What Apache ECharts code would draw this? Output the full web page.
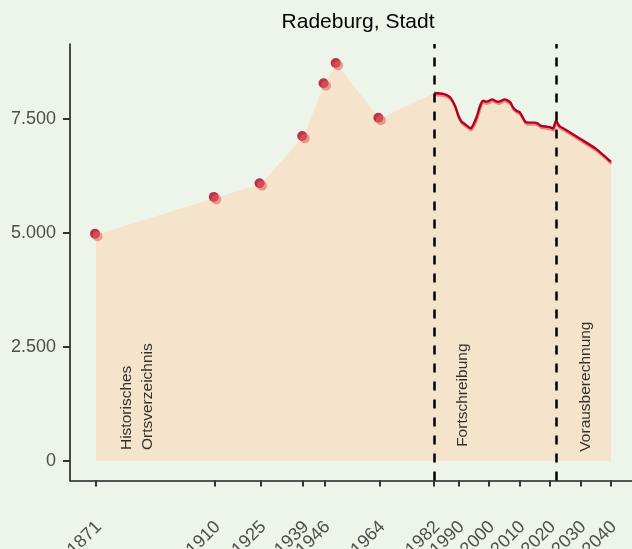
<!DOCTYPE html>
<html>
<head>
<meta charset="utf-8">
<script src="https://cdn.jsdelivr.net/npm/echarts@6/dist/echarts.min.js"></script>
<style>
  html, body { margin: 0; padding: 0; background: #edf5ea; }
  #chart { width: 632px; height: 549px; }
</style>
</head>
<body>
<div id="chart"></div>
<script>
// historische Zählungen (Punkte)
var histYears = [1871, 1910, 1925, 1939, 1946, 1950, 1964];
var histValues = [4960, 5770, 6070, 7105, 8262, 8706, 7507];

// Fortschreibung + Vorausberechnung (Linie)
var lineYears = [1982, 1985, 1987, 1988, 1989, 1990, 1991, 1992, 1994, 1995, 1996, 1997, 1998, 1999, 2000,
  2001, 2002, 2003, 2004, 2005, 2006, 2007, 2008, 2009, 2010, 2011, 2012, 2013, 2014, 2015, 2016,
  2017, 2018, 2019, 2020, 2021, 2022, 2023, 2025, 2030, 2035, 2040];
var lineValues = [8070, 8050, 7990, 7900, 7760, 7560, 7440, 7390, 7296, 7400, 7560, 7780, 7900, 7880, 7900,
  7930, 7900, 7880, 7900, 7930, 7910, 7860, 7740, 7680, 7650, 7540, 7430, 7420, 7420, 7420, 7400,
  7350, 7340, 7330, 7320, 7290, 7470, 7350, 7270, 7060, 6850, 6560];

var xTickYears = [1871, 1910, 1925, 1939, 1946, 1964, 1982, 1990, 2000, 2010, 2020, 2030, 2040];
var yTicks = [0, 2500, 5000, 7500];
var phaseBreaks = [1982, 2022];

var phaseLabels = ['Historisches\nOrtsverzeichnis', 'Fortschreibung', 'Vorausberechnung'];
var phaseLabelPos = [[1884.6, 240], [1991.4, 310], [2031.8, 205]];

var histData = histYears.map(function (y, i) { return [y, histValues[i]]; });
var lineData = lineYears.map(function (y, i) { return [y, lineValues[i]]; });
var areaData = histData.concat(lineData);

var darkRed = '#b3001f';
var lightRed = 'rgba(226,98,98,0.72)';
var axisText = { color: '#4d4d4d', fontSize: 18, fontFamily: 'Liberation Sans' };

var chart = echarts.init(document.getElementById('chart'));
chart.setOption({
  backgroundColor: '#edf5ea',
  animation: false,
  title: {
    text: 'Radeburg, Stadt',
    left: 353,
    textAlign: 'center',
    top: 7,
    textStyle: { color: '#000', fontSize: 21, fontWeight: 'normal', fontFamily: 'Liberation Sans' }
  },
  grid: { left: 70, right: 0, top: 44, bottom: 68.5, containLabel: false, outerBoundsMode: 'none' },
  xAxis: {
    type: 'value',
    min: 1862.47,
    max: 2046.9,
    splitLine: { show: false },
    axisLine: { show: true, onZero: false, lineStyle: { color: '#222', width: 1.5 } },
    axisTick: { show: true, length: 6, lineStyle: { color: '#333', width: 2 }, customValues: xTickYears },
    axisLabel: Object.assign({
      rotate: 45, margin: 28, verticalAlign: 'top', padding: [4, 9, 0, 0],
      customValues: xTickYears, formatter: function (v) { return String(v); }
    }, axisText)
  },
  yAxis: {
    type: 'value',
    min: -428,
    max: 9145,
    splitLine: { show: false },
    axisLine: { show: true, onZero: false, lineStyle: { color: '#111', width: 1.5 } },
    axisTick: { show: true, length: 7, lineStyle: { color: '#333', width: 2 }, customValues: yTicks },
    axisLabel: Object.assign({
      margin: 14, customValues: yTicks,
      formatter: function (v) { return v === 0 ? '0' : v.toLocaleString('de-DE'); }
    }, axisText)
  },
  series: [
    {
      name: 'Fläche',
      type: 'line',
      data: areaData,
      symbol: 'none',
      lineStyle: { width: 0 },
      areaStyle: { color: '#f5e3cb', opacity: 1 },
      silent: true,
      z: 1,
      markLine: {
        silent: true,
        symbol: 'none',
        label: { show: false },
        lineStyle: { color: '#000', width: 2.5, type: [9, 9] },
        data: phaseBreaks.map(function (x) { return { xAxis: x }; })
      }
    },
    {
      name: 'Linie',
      type: 'line',
      data: lineData,
      symbol: 'none',
      smooth: 0.2,
      lineStyle: { color: darkRed, width: 2.4, shadowColor: lightRed, shadowBlur: 0, shadowOffsetY: 2, shadowOffsetX: 0.5 },
      z: 3
    },
    {
      name: 'Punkte',
      type: 'scatter',
      data: histData,
      symbolSize: 10,
      symbolOffset: [-1, -1],
      itemStyle: { color: darkRed },
      z: 4
    },
    {
      name: 'Punkte hell',
      type: 'scatter',
      data: histData,
      symbolSize: 10,
      symbolOffset: [1.5, 1.5],
      itemStyle: { color: lightRed },
      z: 5
    },
    {
      name: 'Phasen',
      type: 'scatter',
      symbolSize: 0,
      silent: true,
      data: phaseLabelPos.map(function (p, i) { return { value: p, name: phaseLabels[i] }; }),
      label: {
        show: true,
        position: [0, 0],
        rotate: 90,
        align: 'left',
        verticalAlign: 'middle',
        color: '#000',
        fontSize: 15.5,
        lineHeight: 21,
        fontFamily: 'Liberation Sans',
        formatter: function (p) { return p.name; }
      },
      z: 6
    }
  ]
});
</script>
</body>
</html>
